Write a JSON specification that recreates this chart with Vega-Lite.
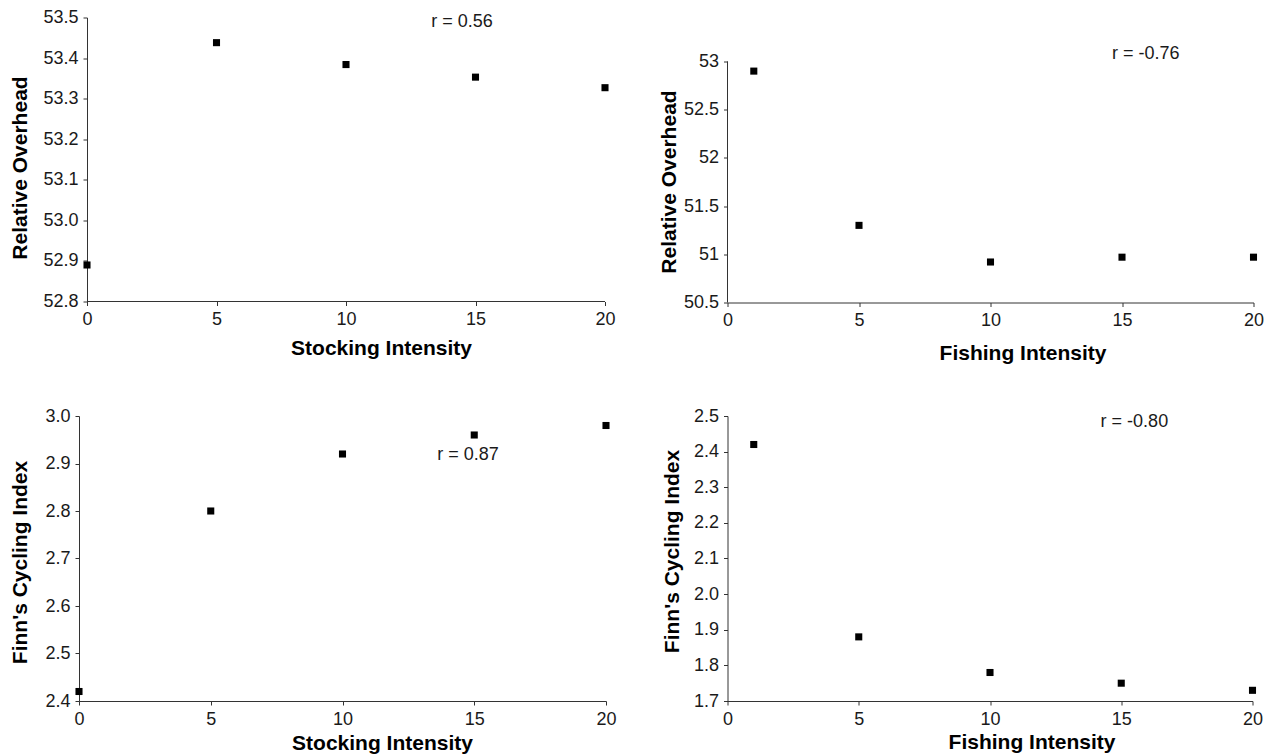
{
  "$schema": "https://vega.github.io/schema/vega-lite/v6.json",
  "padding": {"left": 9, "top": 8.5, "right": 5, "bottom": 5},
  "background": "white",
  "config": {
    "font": "Liberation Sans",
    "view": {"stroke": null},
    "axis": {
      "grid": false,
      "domainColor": "#333333",
      "tickColor": "#333333",
      "tickSize": 4,
      "labelFont": "Liberation Sans",
      "labelFontSize": 18,
      "labelColor": "#1a1a1a",
      "titleFont": "Liberation Sans",
      "titleFontSize": 21,
      "titleFontWeight": "bold",
      "titleColor": "#000000"
    },
    "axisX": {"labelPadding": 5, "labelFlush": false, "titleAlign": "center", "titleBaseline": "middle"},
    "axisY": {"labelPadding": 5, "titleAlign": "center", "titleBaseline": "middle", "titleAngle": -90},
    "rule": {"color": "#333333", "strokeWidth": 1},
    "text": {"font": "Liberation Sans", "fontSize": 18, "color": "#1a1a1a", "align": "center", "baseline": "middle"}
  },
  "spacing": 43.5,
  "vconcat": [
    {
      "spacing": 42.5,
      "hconcat": [
        {
          "width": 526,
          "height": 284,
          "encoding": {
            "x": {"field": "x", "type": "quantitative", "scale": {"domain": [-0.309, 20], "nice": false, "zero": false},
                  "axis": {"values": [0, 5, 10, 15, 20], "domain": false, "title": "Stocking Intensity", "titleX": 302, "titleY": 47}},
            "y": {"field": "y", "type": "quantitative", "scale": {"domain": [52.8, 53.5], "nice": false, "zero": false},
                  "axis": {"values": [52.8, 52.9, 53.0, 53.1, 53.2, 53.3, 53.4, 53.5], "format": ".1f", "offset": -8, "title": "Relative Overhead", "titleX": -66.5, "titleY": 150}}
          },
          "layer": [
            {
              "data": {"values": [{"x": 0, "x2": 20, "y": 52.8}]},
              "mark": {"type": "rule"},
              "encoding": {"x2": {"field": "x2"}}
            },
            {
              "data": {"values": [
                {"x": 0, "y": 52.89},
                {"x": 5, "y": 53.438},
                {"x": 10, "y": 53.384},
                {"x": 15, "y": 53.353},
                {"x": 20, "y": 53.327}
              ]},
              "mark": {"type": "square", "size": 50, "color": "#000000", "opacity": 1}
            },
            {
              "data": {"values": [{"x": 14.48, "y": 53.489, "label": "r = 0.56"}]},
              "mark": {"type": "text"},
              "encoding": {"text": {"field": "label"}}
            }
          ]
        },
        {
          "width": 526,
          "height": 285,
          "encoding": {
            "x": {"field": "x", "type": "quantitative", "scale": {"domain": [0, 20], "nice": false},
                  "axis": {"values": [0, 5, 10, 15, 20], "title": "Fishing Intensity", "titleX": 295, "titleY": 51}},
            "y": {"field": "y", "type": "quantitative", "scale": {"domain": [50.5, 53.456], "nice": false, "zero": false},
                  "axis": {"values": [50.5, 51, 51.5, 52, 52.5, 53], "format": "~g", "domain": false, "title": "Relative Overhead", "titleX": -58, "titleY": 164}}
          },
          "layer": [
            {
              "data": {"values": [{"x": 0, "y": 50.5, "y2": 53}]},
              "mark": {"type": "rule"},
              "encoding": {"y2": {"field": "y2"}}
            },
            {
              "data": {"values": [
                {"x": 1, "y": 52.9},
                {"x": 5, "y": 51.3},
                {"x": 10, "y": 50.92},
                {"x": 15, "y": 50.97},
                {"x": 20, "y": 50.97}
              ]},
              "mark": {"type": "square", "size": 50, "color": "#000000", "opacity": 1}
            },
            {
              "data": {"values": [{"x": 15.9, "y": 53.073, "label": "r = -0.76"}]},
              "mark": {"type": "text"},
              "encoding": {"text": {"field": "label"}}
            }
          ]
        }
      ]
    },
    {
      "spacing": 43.5,
      "hconcat": [
        {
          "width": 527,
          "height": 285,
          "encoding": {
            "x": {"field": "x", "type": "quantitative", "scale": {"domain": [0, 20], "nice": false},
                  "axis": {"values": [0, 5, 10, 15, 20], "title": "Stocking Intensity", "titleX": 303, "titleY": 42}},
            "y": {"field": "y", "type": "quantitative", "scale": {"domain": [2.4, 3.0], "nice": false, "zero": false},
                  "axis": {"values": [2.4, 2.5, 2.6, 2.7, 2.8, 2.9, 3.0], "format": ".1f", "title": "Finn's Cycling Index", "titleX": -59, "titleY": 146}}
          },
          "layer": [
            {
              "data": {"values": [
                {"x": 0, "y": 2.42},
                {"x": 5, "y": 2.80},
                {"x": 10, "y": 2.92},
                {"x": 15, "y": 2.96},
                {"x": 20, "y": 2.98}
              ]},
              "mark": {"type": "square", "size": 50, "color": "#000000", "opacity": 1}
            },
            {
              "data": {"values": [{"x": 14.76, "y": 2.918, "label": "r = 0.87"}]},
              "mark": {"type": "text"},
              "encoding": {"text": {"field": "label"}}
            }
          ]
        },
        {
          "width": 525,
          "height": 285,
          "encoding": {
            "x": {"field": "x", "type": "quantitative", "scale": {"domain": [0, 20], "nice": false},
                  "axis": {"values": [0, 5, 10, 15, 20], "title": "Fishing Intensity", "titleX": 304, "titleY": 41}},
            "y": {"field": "y", "type": "quantitative", "scale": {"domain": [1.7, 2.5], "nice": false, "zero": false},
                  "axis": {"values": [1.7, 1.8, 1.9, 2.0, 2.1, 2.2, 2.3, 2.4, 2.5], "format": ".1f", "title": "Finn's Cycling Index", "titleX": -55, "titleY": 135}}
          },
          "layer": [
            {
              "data": {"values": [
                {"x": 1, "y": 2.42},
                {"x": 5, "y": 1.88},
                {"x": 10, "y": 1.78},
                {"x": 15, "y": 1.75},
                {"x": 20, "y": 1.73}
              ]},
              "mark": {"type": "square", "size": 50, "color": "#000000", "opacity": 1}
            },
            {
              "data": {"values": [{"x": 15.5, "y": 2.483, "label": "r = -0.80"}]},
              "mark": {"type": "text"},
              "encoding": {"text": {"field": "label"}}
            }
          ]
        }
      ]
    }
  ]
}
